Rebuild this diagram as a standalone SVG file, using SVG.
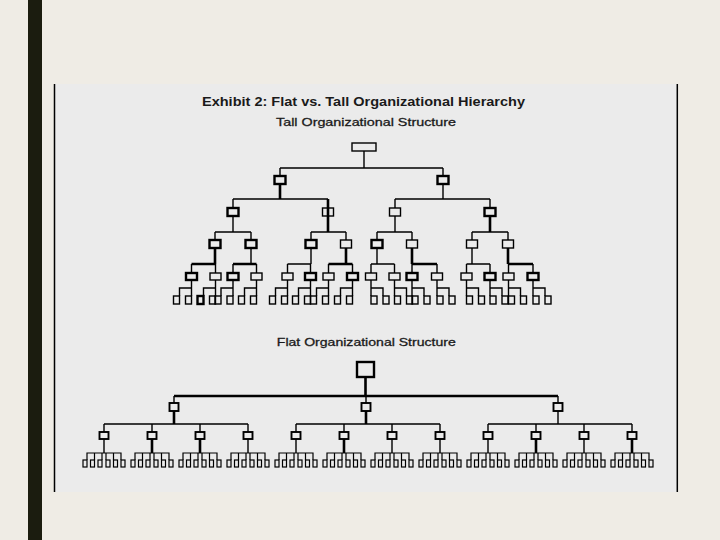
<svg xmlns="http://www.w3.org/2000/svg" width="720" height="540" viewBox="0 0 720 540">
<style>
.bx{fill:none;stroke:#000;stroke-width:1.4}
.bk{fill:none;stroke:#000;stroke-width:2.4}
.bm{fill:none;stroke:#000;stroke-width:1.9}
.lf{fill:none;stroke:#000;stroke-width:1.2}
.ln{fill:none;stroke:#000;stroke-width:1.4}
.lk{fill:none;stroke:#000;stroke-width:2.6}
text{font-family:"Liberation Sans",Arial,sans-serif;fill:#1a1a1a;text-anchor:middle}
</style>
<rect width="720" height="540" fill="#EFECE5"/>
<rect x="28" y="0" width="14" height="540" fill="#1B1C0F"/>
<rect x="54" y="84" width="623.5" height="408" fill="#EBEBEB"/>
<path d="M54.5 84V492M677.3 84V492" stroke="#000" stroke-width="1.5" fill="none"/>
<g id="titles">
<text x="363.5" y="105.5" font-size="13" font-weight="bold" textLength="323" lengthAdjust="spacingAndGlyphs">Exhibit 2: Flat vs. Tall Organizational Hierarchy</text>
<text x="366" y="126" font-size="11.5" textLength="180" lengthAdjust="spacingAndGlyphs" stroke="#1a1a1a" stroke-width="0.3">Tall Organizational Structure</text>
<text x="366.3" y="346" font-size="11.5" textLength="179" lengthAdjust="spacingAndGlyphs" stroke="#1a1a1a" stroke-width="0.3">Flat Organizational Structure</text>
</g>
<g id="connectors">
<g id="tall-connectors">
<path class="ln" d="M364 151V168M280 168H443M280 168V176M443 168V176M443 184V199M233 199H328M395 199H490M233 199V208M395 199V208M490 199V208"/>
<path class="lk" d="M280 184V199M328 199V232M490 216V232"/>
<path class="ln" d="M233 216V232M395 216V232M215 232H251M311 232H346M377 232H412M472 232H508M215 232V240M251 232V240M311 232V240M346 232V240M377 232V240M412 232V240M472 232V240M508 232V240"/>
<path class="ln" d="M251 248V264M311 248V264M377 248V264M472 248V264M287.5 264H310.5M371 264H394.5M466.5 264H490"/>
<path class="lk" d="M215 248V264M346 248V264M412 248V264M508 248V264M191.5 264H215.5M233 264H256.5M328.5 264H352.5M412 264H437M508.5 264H533"/>
<path class="ln" d="M191.5 264V273M215.5 264V273M233 264V273M256.5 264V273M287.5 264V273M310.5 264V273M328.5 264V273M352.5 264V273M371 264V273M394.5 264V273M412 264V273M437 264V273M466.5 264V273M490 264V273M508.5 264V273M533 264V273"/>
<path class="ln" d="M179.5 296V288H191.5M191.5 280V296M203.5 296V288H215.5M215.5 280V296M221 296V288H233M233 280V296M244.5 296V288H256.5M256.5 280V296M275.5 296V288H287.5M287.5 280V296M298.5 296V288H310.5M310.5 280V296M316.5 296V288H328.5M328.5 280V296M340.5 296V288H352.5M352.5 280V296"/>
<path class="ln" d="M383 296V288H371M371 280V296M406.5 296V288H394.5M394.5 280V296M424 296V288H412M412 280V296M449 296V288H437M437 280V296M478.5 296V288H466.5M466.5 280V296M502 296V288H490M490 280V296M520.5 296V288H508.5M508.5 280V296M545 296V288H533M533 280V296"/>
</g>
<g id="flat-connectors">
<path class="lk" d="M365.5 377V396M174 396H558M174 411V424M366 411V424"/>
<path class="ln" d="M174 396V403M366 396V403M558 396V403M558 411V424M104 424H248M296 424H440M488 424H632"/>
<path class="ln" d="M104 424V432M152 424V432M200 424V432M248 424V432M296 424V432M344 424V432M392 424V432M440 424V432M488 424V432M536 424V432M584 424V432M632 424V432"/>
<path class="lk" d="M152 439V453M200 439V453M344 439V453M536 439V453M632 439V453"/>
<path class="ln" d="M104 439V453M248 439V453M296 439V453M392 439V453M440 439V453M488 439V453M584 439V453"/>
<g transform="translate(104,0)"><path class="lf" d="M-17 460V453H17V460M-9.5 453V460M-2 453V460M2 453V460M9.5 453V460"/></g>
<g transform="translate(152,0)"><path class="lf" d="M-17 460V453H17V460M-9.5 453V460M-2 453V460M2 453V460M9.5 453V460"/></g>
<g transform="translate(200,0)"><path class="lf" d="M-17 460V453H17V460M-9.5 453V460M-2 453V460M2 453V460M9.5 453V460"/></g>
<g transform="translate(248,0)"><path class="lf" d="M-17 460V453H17V460M-9.5 453V460M-2 453V460M2 453V460M9.5 453V460"/></g>
<g transform="translate(296,0)"><path class="lf" d="M-17 460V453H17V460M-9.5 453V460M-2 453V460M2 453V460M9.5 453V460"/></g>
<g transform="translate(344,0)"><path class="lf" d="M-17 460V453H17V460M-9.5 453V460M-2 453V460M2 453V460M9.5 453V460"/></g>
<g transform="translate(392,0)"><path class="lf" d="M-17 460V453H17V460M-9.5 453V460M-2 453V460M2 453V460M9.5 453V460"/></g>
<g transform="translate(440,0)"><path class="lf" d="M-17 460V453H17V460M-9.5 453V460M-2 453V460M2 453V460M9.5 453V460"/></g>
<g transform="translate(488,0)"><path class="lf" d="M-17 460V453H17V460M-9.5 453V460M-2 453V460M2 453V460M9.5 453V460"/></g>
<g transform="translate(536,0)"><path class="lf" d="M-17 460V453H17V460M-9.5 453V460M-2 453V460M2 453V460M9.5 453V460"/></g>
<g transform="translate(584,0)"><path class="lf" d="M-17 460V453H17V460M-9.5 453V460M-2 453V460M2 453V460M9.5 453V460"/></g>
<g transform="translate(632,0)"><path class="lf" d="M-17 460V453H17V460M-9.5 453V460M-2 453V460M2 453V460M9.5 453V460"/></g>
</g>
</g>
<g id="tall-nodes">
<g id="t-root"><rect class="bx" x="352" y="143" width="24" height="8"/></g>
<g id="t-l1-1"><rect class="bk" x="274.5" y="176" width="11" height="8"/></g>
<g id="t-l1-2"><rect class="bk" x="437.5" y="176" width="11" height="8"/></g>
<g id="t-l2-1"><rect class="bk" x="227.5" y="208" width="11" height="8"/></g>
<g id="t-l2-2"><rect class="bx" x="322.5" y="208" width="11" height="8"/></g>
<g id="t-l2-3"><rect class="bx" x="389.5" y="208" width="11" height="8"/></g>
<g id="t-l2-4"><rect class="bk" x="484.5" y="208" width="11" height="8"/></g>
<g id="t-l3-1"><rect class="bk" x="209.5" y="240" width="11" height="8"/></g>
<g id="t-l3-2"><rect class="bk" x="245.5" y="240" width="11" height="8"/></g>
<g id="t-l3-3"><rect class="bk" x="305.5" y="240" width="11" height="8"/></g>
<g id="t-l3-4"><rect class="bx" x="340.5" y="240" width="11" height="8"/></g>
<g id="t-l3-5"><rect class="bk" x="371.5" y="240" width="11" height="8"/></g>
<g id="t-l3-6"><rect class="bx" x="406.5" y="240" width="11" height="8"/></g>
<g id="t-l3-7"><rect class="bx" x="466.5" y="240" width="11" height="8"/></g>
<g id="t-l3-8"><rect class="bx" x="502.5" y="240" width="11" height="8"/></g>
<g id="t-l4-1"><rect class="bk" x="186" y="273" width="11" height="7"/></g>
<g id="t-l4-2"><rect class="bx" x="210" y="273" width="11" height="7"/></g>
<g id="t-l4-3"><rect class="bk" x="227.5" y="273" width="11" height="7"/></g>
<g id="t-l4-4"><rect class="bx" x="251" y="273" width="11" height="7"/></g>
<g id="t-l4-5"><rect class="bx" x="282" y="273" width="11" height="7"/></g>
<g id="t-l4-6"><rect class="bk" x="305" y="273" width="11" height="7"/></g>
<g id="t-l4-7"><rect class="bx" x="323" y="273" width="11" height="7"/></g>
<g id="t-l4-8"><rect class="bk" x="347" y="273" width="11" height="7"/></g>
<g id="t-l4-9"><rect class="bx" x="365.5" y="273" width="11" height="7"/></g>
<g id="t-l4-10"><rect class="bx" x="389" y="273" width="11" height="7"/></g>
<g id="t-l4-11"><rect class="bk" x="406.5" y="273" width="11" height="7"/></g>
<g id="t-l4-12"><rect class="bx" x="431.5" y="273" width="11" height="7"/></g>
<g id="t-l4-13"><rect class="bx" x="461" y="273" width="11" height="7"/></g>
<g id="t-l4-14"><rect class="bk" x="484.5" y="273" width="11" height="7"/></g>
<g id="t-l4-15"><rect class="bx" x="503" y="273" width="11" height="7"/></g>
<g id="t-l4-16"><rect class="bk" x="527.5" y="273" width="11" height="7"/></g>
<g id="t-leaves">
<rect class="bx" x="173.5" y="296" width="6" height="8"/><rect class="bx" x="185.5" y="296" width="6" height="8"/>
<rect class="bk" x="197.5" y="296" width="6" height="8"/><rect class="bx" x="209.5" y="296" width="6" height="8"/>
<rect class="bx" x="215" y="296" width="6" height="8"/><rect class="bx" x="227" y="296" width="6" height="8"/>
<rect class="bx" x="238.5" y="296" width="6" height="8"/><rect class="bx" x="250.5" y="296" width="6" height="8"/>
<rect class="bx" x="269.5" y="296" width="6" height="8"/><rect class="bx" x="281.5" y="296" width="6" height="8"/>
<rect class="bx" x="292.5" y="296" width="6" height="8"/><rect class="bx" x="304.5" y="296" width="6" height="8"/>
<rect class="bx" x="310.5" y="296" width="6" height="8"/><rect class="bx" x="322.5" y="296" width="6" height="8"/>
<rect class="bx" x="334.5" y="296" width="6" height="8"/><rect class="bx" x="346.5" y="296" width="6" height="8"/>
<rect class="bx" x="371" y="296" width="6" height="8"/><rect class="bx" x="383" y="296" width="6" height="8"/>
<rect class="bx" x="394.5" y="296" width="6" height="8"/><rect class="bx" x="406.5" y="296" width="6" height="8"/>
<rect class="bx" x="412" y="296" width="6" height="8"/><rect class="bx" x="424" y="296" width="6" height="8"/>
<rect class="bx" x="437" y="296" width="6" height="8"/><rect class="bx" x="449" y="296" width="6" height="8"/>
<rect class="bx" x="466.5" y="296" width="6" height="8"/><rect class="bx" x="478.5" y="296" width="6" height="8"/>
<rect class="bx" x="490" y="296" width="6" height="8"/><rect class="bx" x="502" y="296" width="6" height="8"/>
<rect class="bx" x="508.5" y="296" width="6" height="8"/><rect class="bx" x="520.5" y="296" width="6" height="8"/>
<rect class="bx" x="533" y="296" width="6" height="8"/><rect class="bx" x="545" y="296" width="6" height="8"/>
</g>
</g>
<g id="flat-nodes">
<g id="f-root"><rect class="bk" x="357" y="362" width="17" height="15"/></g>
<g id="f-l1-1"><rect class="bm" x="169.5" y="403" width="9" height="8"/></g>
<g id="f-l1-2"><rect class="bm" x="361.5" y="403" width="9" height="8"/></g>
<g id="f-l1-3"><rect class="bm" x="553.5" y="403" width="9" height="8"/></g>
<g id="f-l2-1"><rect class="bm" x="99.5" y="432" width="9" height="7"/></g>
<g id="f-l2-2"><rect class="bm" x="147.5" y="432" width="9" height="7"/></g>
<g id="f-l2-3"><rect class="bm" x="195.5" y="432" width="9" height="7"/></g>
<g id="f-l2-4"><rect class="bm" x="243.5" y="432" width="9" height="7"/></g>
<g id="f-l2-5"><rect class="bm" x="291.5" y="432" width="9" height="7"/></g>
<g id="f-l2-6"><rect class="bm" x="339.5" y="432" width="9" height="7"/></g>
<g id="f-l2-7"><rect class="bm" x="387.5" y="432" width="9" height="7"/></g>
<g id="f-l2-8"><rect class="bm" x="435.5" y="432" width="9" height="7"/></g>
<g id="f-l2-9"><rect class="bm" x="483.5" y="432" width="9" height="7"/></g>
<g id="f-l2-10"><rect class="bm" x="531.5" y="432" width="9" height="7"/></g>
<g id="f-l2-11"><rect class="bm" x="579.5" y="432" width="9" height="7"/></g>
<g id="f-l2-12"><rect class="bm" x="627.5" y="432" width="9" height="7"/></g>
<g id="f-leaves-1" transform="translate(104,0)"><rect class="lf" x="-21" y="460" width="4" height="7"/><rect class="lf" x="-13.5" y="460" width="4" height="7"/><rect class="lf" x="-6" y="460" width="4" height="7"/><rect class="lf" x="2" y="460" width="4" height="7"/><rect class="lf" x="9.5" y="460" width="4" height="7"/><rect class="lf" x="17" y="460" width="4" height="7"/></g>
<g id="f-leaves-2" transform="translate(152,0)"><rect class="lf" x="-21" y="460" width="4" height="7"/><rect class="lf" x="-13.5" y="460" width="4" height="7"/><rect class="lf" x="-6" y="460" width="4" height="7"/><rect class="lf" x="2" y="460" width="4" height="7"/><rect class="lf" x="9.5" y="460" width="4" height="7"/><rect class="lf" x="17" y="460" width="4" height="7"/></g>
<g id="f-leaves-3" transform="translate(200,0)"><rect class="lf" x="-21" y="460" width="4" height="7"/><rect class="lf" x="-13.5" y="460" width="4" height="7"/><rect class="lf" x="-6" y="460" width="4" height="7"/><rect class="lf" x="2" y="460" width="4" height="7"/><rect class="lf" x="9.5" y="460" width="4" height="7"/><rect class="lf" x="17" y="460" width="4" height="7"/></g>
<g id="f-leaves-4" transform="translate(248,0)"><rect class="lf" x="-21" y="460" width="4" height="7"/><rect class="lf" x="-13.5" y="460" width="4" height="7"/><rect class="lf" x="-6" y="460" width="4" height="7"/><rect class="lf" x="2" y="460" width="4" height="7"/><rect class="lf" x="9.5" y="460" width="4" height="7"/><rect class="lf" x="17" y="460" width="4" height="7"/></g>
<g id="f-leaves-5" transform="translate(296,0)"><rect class="lf" x="-21" y="460" width="4" height="7"/><rect class="lf" x="-13.5" y="460" width="4" height="7"/><rect class="lf" x="-6" y="460" width="4" height="7"/><rect class="lf" x="2" y="460" width="4" height="7"/><rect class="lf" x="9.5" y="460" width="4" height="7"/><rect class="lf" x="17" y="460" width="4" height="7"/></g>
<g id="f-leaves-6" transform="translate(344,0)"><rect class="lf" x="-21" y="460" width="4" height="7"/><rect class="lf" x="-13.5" y="460" width="4" height="7"/><rect class="lf" x="-6" y="460" width="4" height="7"/><rect class="lf" x="2" y="460" width="4" height="7"/><rect class="lf" x="9.5" y="460" width="4" height="7"/><rect class="lf" x="17" y="460" width="4" height="7"/></g>
<g id="f-leaves-7" transform="translate(392,0)"><rect class="lf" x="-21" y="460" width="4" height="7"/><rect class="lf" x="-13.5" y="460" width="4" height="7"/><rect class="lf" x="-6" y="460" width="4" height="7"/><rect class="lf" x="2" y="460" width="4" height="7"/><rect class="lf" x="9.5" y="460" width="4" height="7"/><rect class="lf" x="17" y="460" width="4" height="7"/></g>
<g id="f-leaves-8" transform="translate(440,0)"><rect class="lf" x="-21" y="460" width="4" height="7"/><rect class="lf" x="-13.5" y="460" width="4" height="7"/><rect class="lf" x="-6" y="460" width="4" height="7"/><rect class="lf" x="2" y="460" width="4" height="7"/><rect class="lf" x="9.5" y="460" width="4" height="7"/><rect class="lf" x="17" y="460" width="4" height="7"/></g>
<g id="f-leaves-9" transform="translate(488,0)"><rect class="lf" x="-21" y="460" width="4" height="7"/><rect class="lf" x="-13.5" y="460" width="4" height="7"/><rect class="lf" x="-6" y="460" width="4" height="7"/><rect class="lf" x="2" y="460" width="4" height="7"/><rect class="lf" x="9.5" y="460" width="4" height="7"/><rect class="lf" x="17" y="460" width="4" height="7"/></g>
<g id="f-leaves-10" transform="translate(536,0)"><rect class="lf" x="-21" y="460" width="4" height="7"/><rect class="lf" x="-13.5" y="460" width="4" height="7"/><rect class="lf" x="-6" y="460" width="4" height="7"/><rect class="lf" x="2" y="460" width="4" height="7"/><rect class="lf" x="9.5" y="460" width="4" height="7"/><rect class="lf" x="17" y="460" width="4" height="7"/></g>
<g id="f-leaves-11" transform="translate(584,0)"><rect class="lf" x="-21" y="460" width="4" height="7"/><rect class="lf" x="-13.5" y="460" width="4" height="7"/><rect class="lf" x="-6" y="460" width="4" height="7"/><rect class="lf" x="2" y="460" width="4" height="7"/><rect class="lf" x="9.5" y="460" width="4" height="7"/><rect class="lf" x="17" y="460" width="4" height="7"/></g>
<g id="f-leaves-12" transform="translate(632,0)"><rect class="lf" x="-21" y="460" width="4" height="7"/><rect class="lf" x="-13.5" y="460" width="4" height="7"/><rect class="lf" x="-6" y="460" width="4" height="7"/><rect class="lf" x="2" y="460" width="4" height="7"/><rect class="lf" x="9.5" y="460" width="4" height="7"/><rect class="lf" x="17" y="460" width="4" height="7"/></g>
</g>
</svg>
